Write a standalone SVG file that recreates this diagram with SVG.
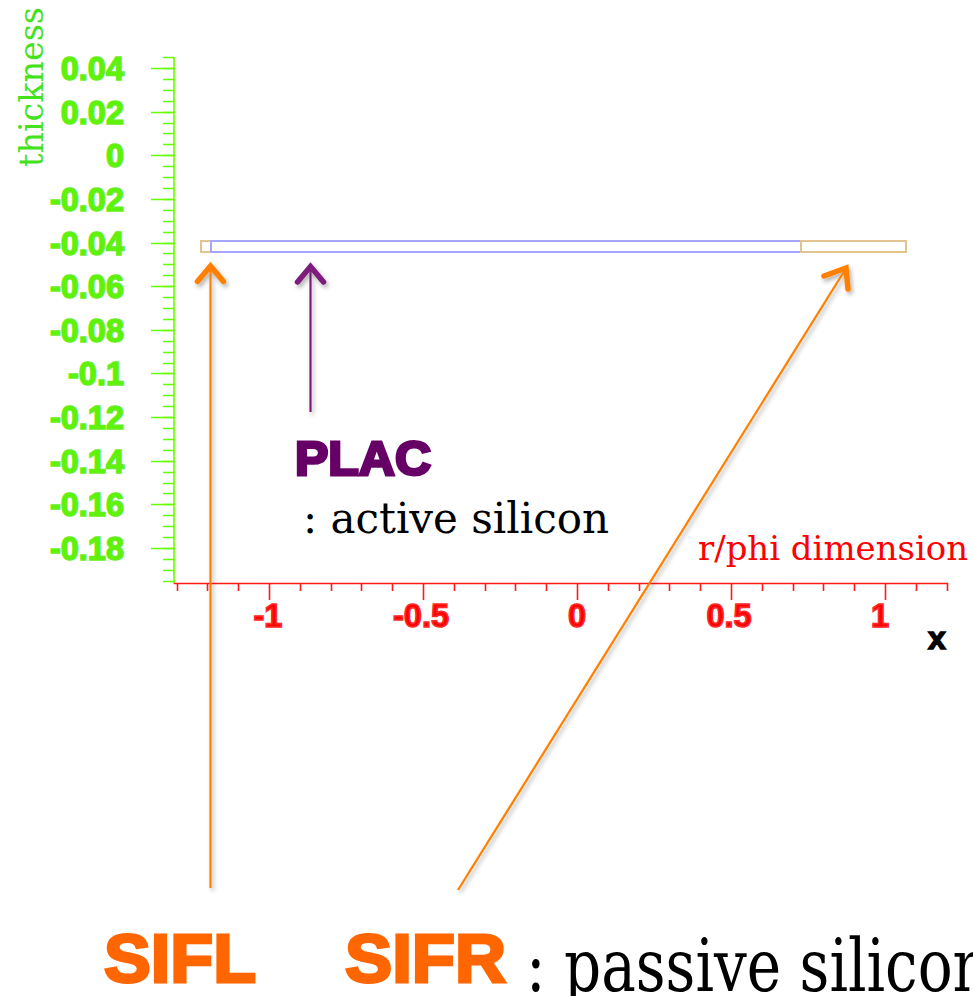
<svg xmlns="http://www.w3.org/2000/svg" width="973" height="996" viewBox="0 0 973 996">
<style>
.yax{stroke:#66ff00;stroke-width:1.6;fill:none}
.xax{stroke:#ff1a1a;stroke-width:1.6;fill:none}
.ylab{font-family:"Liberation Sans",Arial,sans-serif;font-weight:bold;font-size:32.5px;fill:#5cf500;stroke:#66ee22;stroke-width:1.6;text-anchor:end}
.xlab{font-family:"Liberation Sans",Arial,sans-serif;font-weight:bold;font-size:32.5px;fill:#ff0000;stroke:#ff2a2a;stroke-width:1.6;text-anchor:middle}
.serif{font-family:"DejaVu Serif","Liberation Serif",serif}
.heavy{font-family:"Liberation Sans",Arial,sans-serif;font-weight:bold}
.pas{fill:none;stroke:#e3c48f;stroke-width:2}
.act{fill:none;stroke:#a6a6ff;stroke-width:2}
.shaft{fill:none;stroke-width:2.2}
.head{fill:none;stroke-width:5.5;stroke-linecap:round;stroke-linejoin:miter}
.or{stroke:#ff8000}
.pu{stroke:#7d1d7d}
</style>
<defs>
<filter id="sh" x="-50%" y="-10%" width="200%" height="120%">
<feDropShadow dx="2" dy="3" stdDeviation="2" flood-color="#000" flood-opacity="0.3"/>
</filter>
</defs>

<g id="y-axis">
<line class="yax" x1="174" y1="57" x2="174" y2="584"/>
<path class="yax" d="M163 57.5H174M163 68.5H174M163 79.5H174M163 90.5H174M163 101.5H174M163 112.5H174M163 123.5H174M163 133.5H174M163 144.5H174M163 155.5H174M163 166.5H174M163 177.5H174M163 188.5H174M163 199.5H174M163 210.5H174M163 221.5H174M163 232.5H174M163 243.5H174M163 253.5H174M163 264.5H174M163 275.5H174M163 286.5H174M163 297.5H174M163 308.5H174M163 319.5H174M163 330.5H174M163 341.5H174M163 352.5H174M163 363.5H174M163 373.5H174M163 384.5H174M163 395.5H174M163 406.5H174M163 417.5H174M163 428.5H174M163 439.5H174M163 450.5H174M163 461.5H174M163 472.5H174M163 483.5H174M163 493.5H174M163 504.5H174M163 515.5H174M163 526.5H174M163 537.5H174M163 548.5H174M163 559.5H174M163 570.5H174M163 581.5H174"/>
<path class="yax" d="M151 68.5H174M151 112.5H174M151 155.5H174M151 199.5H174M151 243.5H174M151 286.5H174M151 330.5H174M151 373.5H174M151 417.5H174M151 461.5H174M151 504.5H174M151 548.5H174"/>
<text class="ylab" x="124" y="80">0.04</text>
<text class="ylab" x="124" y="124">0.02</text>
<text class="ylab" x="124" y="167">0</text>
<text class="ylab" x="124" y="211">-0.02</text>
<text class="ylab" x="124" y="255">-0.04</text>
<text class="ylab" x="124" y="298">-0.06</text>
<text class="ylab" x="124" y="342">-0.08</text>
<text class="ylab" x="124" y="385">-0.1</text>
<text class="ylab" x="124" y="429">-0.12</text>
<text class="ylab" x="124" y="473">-0.14</text>
<text class="ylab" x="124" y="516">-0.16</text>
<text class="ylab" x="124" y="560">-0.18</text>
<text class="serif" transform="translate(43,167) rotate(-90)" font-size="33" fill="#44e21a" textLength="160" lengthAdjust="spacingAndGlyphs">thickness</text>
</g>

<g id="x-axis">
<line class="xax" x1="174" y1="583.5" x2="948" y2="583.5"/>
<path class="xax" d="M177.5 583V591M207.5 583V591M238.5 583V591M300.5 583V591M331.5 583V591M361.5 583V591M392.5 583V591M454.5 583V591M485.5 583V591M515.5 583V591M546.5 583V591M608.5 583V591M639.5 583V591M669.5 583V591M700.5 583V591M762.5 583V591M793.5 583V591M823.5 583V591M854.5 583V591M916.5 583V591M947.5 583V591"/>
<path class="xax" d="M269.5 583V600M423.5 583V600M577.5 583V600M731.5 583V600M885.5 583V600"/>
<text class="xlab" x="268" y="627">-1</text>
<text class="xlab" x="421" y="627">-0.5</text>
<text class="xlab" x="577" y="627">0</text>
<text class="xlab" x="729" y="627">0.5</text>
<text class="xlab" x="880" y="627">1</text>
<text class="heavy" x="928" y="649" font-size="32" fill="#000" stroke="#000" stroke-width="1.5">x</text>
<text class="serif" x="698" y="560" font-size="34" fill="#ff0000" textLength="270" lengthAdjust="spacingAndGlyphs">r/phi dimension</text>
</g>

<g id="SIFL">
<rect class="pas" x="201" y="241" width="10" height="11"/>
</g>
<g id="PLAC">
<rect class="act" x="211" y="241" width="590" height="11"/>
</g>
<g id="SIFR">
<rect class="pas" x="801" y="241" width="105" height="11"/>
</g>

<g id="connectors" filter="url(#sh)">
<line class="shaft or" x1="210.5" y1="888" x2="210.5" y2="268"/>
<polyline class="head or" points="197.5,281.5 210.5,266 223.5,281.5"/>
<line class="shaft pu" x1="310.5" y1="412" x2="310.5" y2="268"/>
<polyline class="head pu" points="297.5,282 310.5,266.5 323.5,282"/>
<line class="shaft or" x1="458" y1="890" x2="845" y2="270"/>
<polyline class="head or" points="824,276 846,268 848,289"/>
</g>

<g id="labels">
<text class="heavy" x="295" y="475" font-size="49" fill="#660066" stroke="#660066" stroke-width="3" textLength="136" lengthAdjust="spacingAndGlyphs">PLAC</text>
<text class="serif" x="303" y="533" font-size="42" fill="#000">: active silicon</text>
<text class="heavy" x="104" y="982" font-size="69" fill="#ff6600" stroke="#ff6600" stroke-width="3" textLength="152" lengthAdjust="spacingAndGlyphs">SIFL</text>
<text class="heavy" x="345" y="982" font-size="69" fill="#ff6600" stroke="#ff6600" stroke-width="3" textLength="161" lengthAdjust="spacingAndGlyphs">SIFR</text>
<text class="serif" x="526" y="991" font-size="72" fill="#000" textLength="464" lengthAdjust="spacingAndGlyphs">: passive silicon</text>
</g>
</svg>
